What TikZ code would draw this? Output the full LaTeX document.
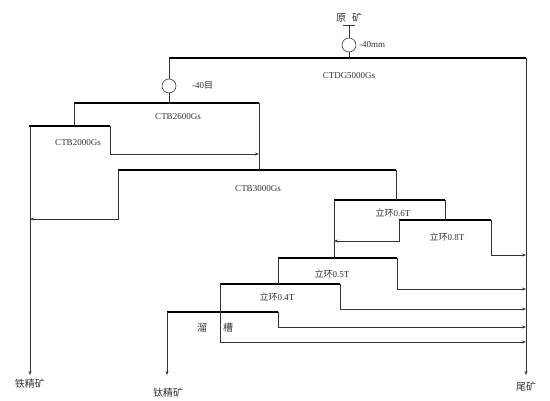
\documentclass[tikz,border=0pt]{standalone}
\usepackage{fontspec}
\setmainfont{Liberation Serif}
\newfontfamily\cjk{Noto Sans CJK SC}
\usetikzlibrary{arrows.meta}
\begin{document}
\begin{tikzpicture}[x=1pt,y=-1pt,
  flow/.style={draw=black!80,line width=0.6pt},
  arr/.style={flow,-{Stealth[length=4pt,width=3pt]}},
  sep/.style={draw=black,line width=2pt},
  lab/.style={inner sep=0pt,text=black!80,font=\fontsize{9}{10}\selectfont},
  clab/.style={inner sep=0pt,text=black!80,font=\fontsize{10}{11}\selectfont\cjk},
  screen/.style={circle,draw=black!75,line width=0.6pt,minimum size=14pt,inner sep=0pt}]
\useasboundingbox (0,0) rectangle (550,400);
% feed
\node[clab] (feed) at (349,18) {原\hspace{0.6em}矿};
\coordinate (tkL) at (343,25); \coordinate (tkR) at (355,25); \coordinate (tkM) at (349,25);
\node[screen] (c1) at (349,45) {};
\node[lab,anchor=west] (m40mm) at (359,45) {-40mm};
% CTDG
\coordinate (aL) at (169,58); \coordinate (aR) at (526,58); \coordinate (aM) at (349,58);
\node[lab] (ctdg) at (349,76) {CTDG5000Gs};
\node[screen] (c2) at (169,86) {};
\node[lab,anchor=west] (m40) at (192,85) {-40{\cjk 目}};
\coordinate (tail) at (526,375);
\node[clab] (wei) at (526,387) {尾矿};
% CTB2600
\coordinate (bL) at (74,103); \coordinate (bR) at (259,103); \coordinate (bM) at (169,103);
\node[lab] (ctb26) at (178,117) {CTB2600Gs};
% CTB2000
\coordinate (cL) at (29,126); \coordinate (cR) at (110,126); \coordinate (cL2) at (74,126);
\coordinate (cLv) at (30,126);
\node[lab] (ctb20) at (78,143) {CTB2000Gs};
\coordinate (cTail) at (110,154); \coordinate (cTailE) at (259,154);
\coordinate (feOut) at (30,375);
\node[clab] (fe) at (30,384) {铁精矿};
% CTB3000
\coordinate (dL) at (118,170); \coordinate (dR) at (396,170); \coordinate (dM) at (259,170);
\node[lab] (ctb30) at (258,189) {CTB3000Gs};
\coordinate (dC) at (118,219); \coordinate (dCE) at (30,219);
% 0.6T
\coordinate (eL) at (334,200); \coordinate (eR) at (445,200); \coordinate (eM) at (396,200);
\node[lab] (t06) at (393,213) {{\cjk 立环}0.6T};
% 0.8T
\coordinate (fL) at (399,220); \coordinate (fR) at (491,220); \coordinate (fM) at (445,220);
\node[lab] (t08) at (447,237) {{\cjk 立环}0.8T};
\coordinate (fC) at (399,241); \coordinate (fCE) at (334,241);
\coordinate (fT) at (491,255); \coordinate (fTE) at (526,255);
% 0.5T
\coordinate (gL) at (278,258); \coordinate (gR) at (397,258); \coordinate (gM) at (334,258);
\node[lab] (t05) at (332,274) {{\cjk 立环}0.5T};
\coordinate (gT) at (397,289); \coordinate (gTE) at (526,289);
% 0.4T
\coordinate (hL) at (220,284); \coordinate (hR) at (340,284); \coordinate (hM) at (278,284);
\node[lab] (t04) at (277,297) {{\cjk 立环}0.4T};
\coordinate (hT) at (340,309); \coordinate (hTE) at (526,309);
\coordinate (hC) at (220,342); \coordinate (hCE) at (526,342);
% chute
\coordinate (iL) at (167,312); \coordinate (iR) at (278,312);
\node[clab] (liu) at (202,328) {溜};
\node[clab] (cao) at (228,328) {槽};
\coordinate (iT) at (278,327); \coordinate (iTE) at (526,327);
\coordinate (tiOut) at (167,375);
\node[clab] (ti) at (168,393) {钛精矿};
% separators
\draw[sep] (aL) -- (aR);
\draw[sep] (bL) -- (bR);
\draw[sep] (cL) -- (cR);
\draw[sep] (dL) -- (dR);
\draw[sep] (eL) -- (eR);
\draw[sep] (fL) -- (fR);
\draw[sep] (gL) -- (gR);
\draw[sep] (hL) -- (hR);
\draw[sep] (iL) -- (iR);
% flows
\draw[flow] (tkL) -- (tkR);
\draw[flow] (tkM) -- (c1.north);
\draw[flow] (c1.south) -- (aM);
\draw[flow] (aL) -- (c2.north);
\draw[flow] (c2.south) -- (bM);
\draw[arr] (aR) -- (tail);
\draw[flow] (bL) -- (cL2);
\draw[flow] (bR) -- (dM);
\draw[arr] (cLv) -- (feOut);
\draw[arr] (cR) -- (cTail) -- (cTailE);
\draw[arr] (dL) -- (dC) -- (dCE);
\draw[flow] (dR) -- (eM);
\draw[flow] (eR) -- (fM);
\draw[flow] (eL) -- (gM);
\draw[arr] (fL) -- (fC) -- (fCE);
\draw[arr] (fR) -- (fT) -- (fTE);
\draw[flow] (gL) -- (hM);
\draw[arr] (gR) -- (gT) -- (gTE);
\draw[arr] (hR) -- (hT) -- (hTE);
\draw[arr] (hL) -- (hC) -- (hCE);
\draw[arr] (iR) -- (iT) -- (iTE);
\draw[arr] (iL) -- (tiOut);
\end{tikzpicture}
\end{document}
